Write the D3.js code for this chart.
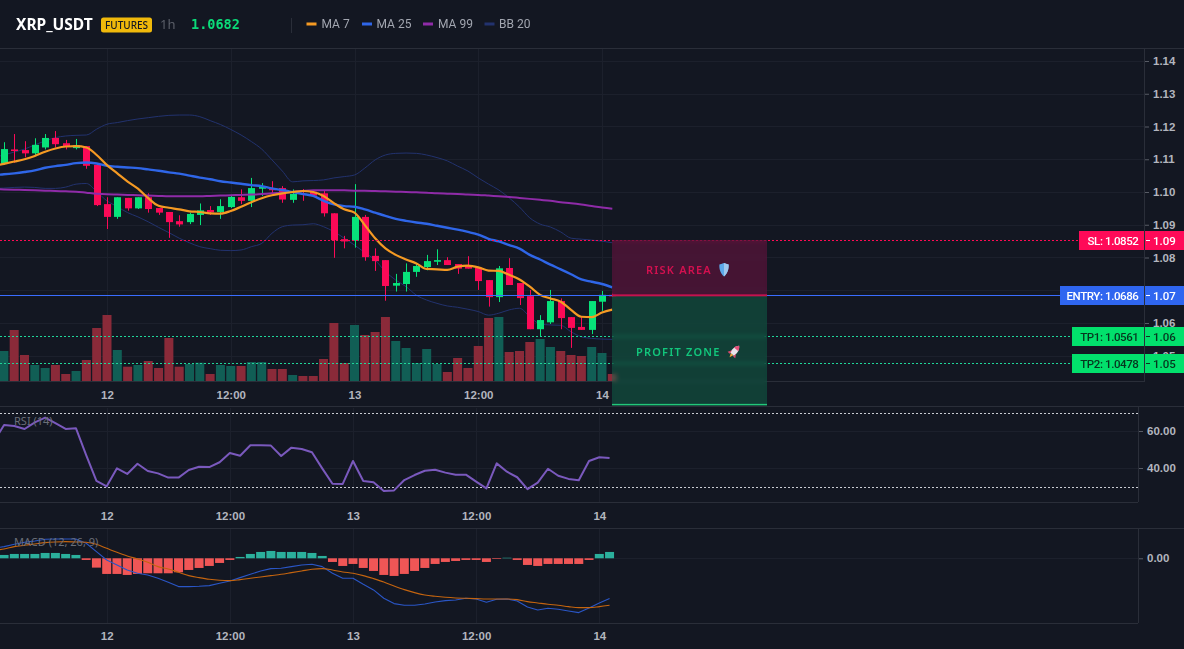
<!DOCTYPE html>
<html>
<head>
<meta charset="utf-8">
<title>XRP_USDT 1h</title>
<script src="https://cdn.jsdelivr.net/npm/d3@7"></script>
<style>
  html, body { margin: 0; padding: 0; background: #131722; overflow: hidden; }
  #stage { position: relative; width: 1184px; height: 649px; overflow: hidden; }
  svg { position: absolute; left: 0; top: 0; }
  .zone { position: absolute; backdrop-filter: blur(2px); -webkit-backdrop-filter: blur(2px); }
  text { font-family: "Noto Sans", sans-serif; }
  .axis text { font-family: "Liberation Sans", sans-serif; font-weight: 700; font-size: 11.5px; fill: #b2b5be; }
  .axis path { display: none; }
</style>
</head>
<body>
<div id="stage"></div>
<script>
// Hourly candles, index 0 is the 12th at 00:00; the first bar sits at index -10.
const firstIndex = -10;
const opens = [1.1086,1.1130,1.1128,1.1118,1.1136,1.1165,1.1149,1.1134,1.1140,1.1083,
  1.0963,1.0924,1.0982,1.0950,1.0984,1.0951,1.0939,1.0911,1.0908,1.0930,
  1.0945,1.0939,1.0954,1.0984,1.0973,1.1010,1.1010,1.1012,1.0976,1.1006,
  1.1001,1.0996,1.0935,1.0856,1.0851,1.0924,1.0805,1.0792,1.0714,1.0719,
  1.0756,1.0771,1.0787,1.0792,1.0780,1.0776,1.0769,1.0731,1.0679,1.0768,
  1.0722,1.0682,1.0581,1.0602,1.0667,1.0618,1.0588,1.0579,1.0665,1.0686];
const closes = [1.1131,1.1125,1.1118,1.1144,1.1165,1.1146,1.1140,1.1143,1.1080,1.0960,
  1.0924,1.0984,1.0950,1.0984,1.0948,1.0937,1.0908,1.0901,1.0933,1.0944,
  1.0938,1.0957,1.0985,1.0973,1.1012,1.1016,1.1006,1.0977,1.0994,1.1001,
  1.0989,1.0935,1.0853,1.0849,1.0924,1.0801,1.0789,1.0713,1.0722,1.0756,
  1.0774,1.0789,1.0792,1.0777,1.0766,1.0766,1.0728,1.0679,1.0767,1.0716,
  1.0676,1.0581,1.0609,1.0667,1.0615,1.0585,1.0579,1.0667,1.0686,1.0682];
const highs = [1.1152,1.1177,1.1155,1.1164,1.1177,1.1186,1.1159,1.1162,1.1140,1.1083,
  1.0984,1.0984,1.0982,1.0984,1.0996,1.0951,1.0939,1.0929,1.0937,1.0965,
  1.0957,1.0978,1.0991,1.1008,1.1043,1.1027,1.1033,1.1018,1.1008,1.1009,
  1.1006,1.1006,1.0935,1.0866,1.1024,1.0930,1.0828,1.0792,1.0750,1.0782,
  1.0783,1.0808,1.0825,1.0801,1.0780,1.0804,1.0769,1.0731,1.0774,1.0798,
  1.0722,1.0701,1.0624,1.0701,1.0675,1.0618,1.0618,1.0667,1.0698,1.0690];
const lows = [1.1083,1.1089,1.1106,1.1113,1.1130,1.1136,1.1130,1.1130,1.1071,1.0957,
  1.0887,1.0918,1.0943,1.0948,1.0937,1.0930,1.0860,1.0894,1.0902,1.0899,
  1.0930,1.0918,1.0951,1.0963,1.0954,1.0988,1.0994,1.0967,1.0967,1.0973,
  1.0985,1.0925,1.0799,1.0828,1.0830,1.0790,1.0759,1.0668,1.0696,1.0696,
  1.0741,1.0761,1.0777,1.0777,1.0750,1.0766,1.0701,1.0650,1.0664,1.0716,
  1.0655,1.0581,1.0558,1.0597,1.0581,1.0524,1.0579,1.0566,1.0637,1.0680];
const volumes = [30.5,51.5,26.5,16.5,13.5,16.5,7.5,10.5,21.5,53.5,
  66.5,31.5,14.8,16.5,20.5,13.5,43.5,14.8,17.5,18.8,
  7.5,16.5,15.5,15.5,19.5,19.5,12.5,12.5,6.5,5.5,
  5.5,22.5,58.5,18.5,56.5,46.5,49.5,64.5,40.5,33.5,
  18.5,32.5,17.5,9.5,23.5,13.5,35.5,63.5,64.5,29.5,
  30.5,39.5,42.5,34.5,30.5,26.5,25.5,34.5,28.5,7.5];

// Line series and RSI carry one extra leading hour so they enter from the pane edge.
const lineFirstIndex = -11;
const ma7 = [1.1079,1.1086,1.1093,1.1100,1.1110,1.1123,1.1133,1.1139,1.1140,1.1136,1.1113,
  1.1082,1.1057,1.1032,1.1010,1.0981,1.0958,1.0952,1.0947,1.0941,1.0939,
  1.0935,1.0934,1.0942,1.0955,1.0969,1.0981,1.0990,1.0996,1.1000,1.1003,
  1.1000,1.0988,1.0966,1.0947,1.0937,1.0899,1.0859,1.0828,1.0808,1.0794,
  1.0782,1.0765,1.0764,1.0762,1.0772,1.0775,1.0770,1.0760,1.0759,1.0747,
  1.0733,1.0711,1.0686,1.0675,1.0665,1.0640,1.0619,1.0618,1.0632,1.0641];
const ma25 = [1.1052,1.1054,1.1057,1.1061,1.1066,1.1074,1.1079,1.1083,1.1088,1.1090,1.1087,
  1.1080,1.1077,1.1075,1.1073,1.1069,1.1065,1.1060,1.1056,1.1050,1.1044,
  1.1039,1.1033,1.1029,1.1025,1.1021,1.1018,1.1011,1.1006,1.1000,1.0994,
  1.0988,1.0973,1.0962,1.0957,1.0955,1.0947,1.0937,1.0927,1.0918,1.0912,
  1.0907,1.0903,1.0897,1.0891,1.0885,1.0878,1.0870,1.0857,1.0849,1.0838,
  1.0827,1.0808,1.0794,1.0778,1.0764,1.0749,1.0733,1.0726,1.0719,1.0709];
const ma99 = [1.1009,1.1008,1.1007,1.1006,1.1005,1.1004,1.1003,1.1002,1.1001,1.0998,1.0995,
  1.0993,1.0992,1.0991,1.0990,1.0989,1.0988,1.0987,1.0987,1.0987,1.0987,
  1.0988,1.0989,1.0990,1.0991,1.0992,1.0994,1.0996,1.0998,1.1000,1.1003,
  1.1005,1.1005,1.1005,1.1005,1.1004,1.1004,1.1003,1.1002,1.1001,1.1000,
  1.0999,1.0998,1.0996,1.0995,1.0994,1.0992,1.0991,1.0989,1.0987,1.0985,
  1.0982,1.0979,1.0976,1.0973,1.0969,1.0966,1.0962,1.0957,1.0953,1.0949];
const bbUpper = [1.1105,1.1113,1.1122,1.1131,1.1144,1.1156,1.1166,1.1171,1.1173,1.1174,1.1192,
  1.1207,1.1212,1.1218,1.1223,1.1227,1.1231,1.1234,1.1235,1.1235,1.1230,
  1.1218,1.1206,1.1191,1.1174,1.1154,1.1131,1.1098,1.1064,1.1031,1.1034,
  1.1035,1.1037,1.1043,1.1047,1.1052,1.1073,1.1098,1.1113,1.1118,1.1119,
  1.1118,1.1113,1.1105,1.1095,1.1079,1.1064,1.1043,1.1024,1.1006,1.0982,
  1.0954,1.0921,1.0902,1.0893,1.0878,1.0859,1.0856,1.0853,1.0850,1.0845];
const bbLower = [1.1011,1.1012,1.1014,1.1015,1.1014,1.1011,1.1011,1.1015,1.1024,1.1026,1.1001,
  1.0973,1.0955,1.0937,1.0924,1.0909,1.0892,1.0876,1.0859,1.0845,1.0833,
  1.0827,1.0822,1.0821,1.0823,1.0833,1.0843,1.0874,1.0894,1.0899,1.0900,
  1.0903,1.0894,1.0879,1.0859,1.0838,1.0815,1.0792,1.0757,1.0731,1.0711,
  1.0685,1.0670,1.0660,1.0652,1.0648,1.0642,1.0635,1.0624,1.0630,1.0640,
  1.0645,1.0619,1.0597,1.0594,1.0593,1.0573,1.0558,1.0553,1.0551,1.0550];

const rsi14 = [54.2,63.2,62.7,61.1,64.7,67.2,64.2,61.1,61.5,47.0,33.0,
  30.1,39.8,36.8,42.3,38.4,37.1,34.8,34.8,38.9,40.7,
  40.5,43.1,48.1,46.6,52.3,52.3,52.1,46.5,51.0,50.3,
  48.5,39.8,31.5,31.4,43.8,33.0,32.3,27.6,27.9,33.5,
  36.2,38.5,39.1,37.5,36.4,36.4,32.6,29.0,42.5,38.0,
  35.0,28.6,32.1,39.6,35.8,34.1,33.4,43.8,45.8,45.4];

const macdLine = [0.0015,0.00175,0.0021,0.0024,0.0026,0.00285,0.0029,0.0029,0.0029,0.00225,0.001,
  -0.00025,-0.001,-0.00175,-0.00225,-0.0025,-0.003,-0.0036,-0.00425,-0.00425,-0.0042,
  -0.0041,-0.00375,-0.0034,-0.0029,-0.0024,-0.0019,-0.00155,-0.0015,-0.00125,-0.001,
  -0.0009,-0.00125,-0.00225,-0.003,-0.003,-0.0039,-0.00475,-0.006,-0.0068,-0.00705,
  -0.00705,-0.00685,-0.00655,-0.00635,-0.00625,-0.006,-0.0061,-0.0066,-0.00615,-0.0061,
  -0.0064,-0.0073,-0.00775,-0.0075,-0.00765,-0.0079,-0.00815,-0.00745,-0.0067,-0.00605];
const macdSignal = [0.0012,0.0014,0.00175,0.00195,0.00215,0.00235,0.00245,0.0025,0.00245,0.0024,0.0021,
  0.0015,0.0009,0.00035,-0.0001,-0.0006,-0.00125,-0.0016,-0.0021,-0.0026,-0.0029,
  -0.00315,-0.0033,-0.00335,-0.0032,-0.003,-0.0028,-0.0026,-0.0024,-0.00215,-0.0019,
  -0.00165,-0.00155,-0.00175,-0.00205,-0.00225,-0.0026,-0.00305,-0.00355,-0.00415,-0.0047,
  -0.00515,-0.0055,-0.0057,-0.00585,-0.00595,-0.006,-0.00605,-0.0061,-0.0061,-0.0061,
  -0.0062,-0.0065,-0.0067,-0.0069,-0.00705,-0.00725,-0.0074,-0.0074,-0.00725,-0.00705];
const macdHist = [0.0005,0.00065,0.00065,0.00065,0.0008,0.0008,0.00065,0.0005,-0.00025,-0.0014,
  -0.00235,-0.00235,-0.0025,-0.00235,-0.00225,-0.00225,-0.00225,-0.0021,-0.00175,-0.00145,
  -0.00115,-0.0007,-0.00025,0.0002,0.00065,0.00095,0.0011,0.00095,0.00095,0.00095,
  0.0008,0.00035,-0.00055,-0.00115,-0.00085,-0.00145,-0.0019,-0.0025,-0.00265,-0.00235,
  -0.0019,-0.00145,-0.00085,-0.00055,-0.0004,-0.00025,-0.00025,-0.00055,-0.0001,0.00008,
  -0.00025,-0.001,-0.00115,-0.00085,-0.00085,-0.00085,-0.00085,-0.00025,0.00065,0.00095];

// Trade levels and axis labels.
const slLevel = 1.0852, entryLevel = 1.0686, tp1Level = 1.0561, tp2Level = 1.0478, zoneFloor = 1.0350;
const lastPrice = 1.0682;
const priceGrid = [1.14,1.13,1.12,1.11,1.10,1.09,1.08,1.07,1.06,1.05];
const priceTicks = [1.14,1.13,1.12,1.11,1.10,1.09,1.08,1.06,1.05];
const rsiTicks = [60,40];
const macdTicks = [0];
const hourTicks = [0,12,24,36,48];
const hourLabels = ["12","12:00","13","12:00","14"];
const legendItems = [["MA 7","#f59a23",306.5,321.5],["MA 25","#2f66e8",362,376.5],["MA 99","#8f2ba8",423,438],["BB 20","#22326e",484.5,499]];

const width = 1184, height = 649;
const col = { up:"#07e37a", down:"#fb0a57", volUp:"#115e55", volDown:"#8a2a39", grid:"#1c202c", line:"#2a2e39" };

const stage = d3.select("#stage");
const svg = stage.append("svg").attr("width", width).attr("height", height);

// Price pane is a little wider than the indicator panes, so they keep separate time scales.
const xMain = d3.scaleLinear().domain([0,48]).range([107,602]);
const xLow = d3.scaleLinear().domain([0,48]).range([106.7,599.3]);
const yPrice = d3.scaleLinear().domain([1.14,1.05]).range([61,355.75]);
const yVol = d3.scaleLinear().domain([0,70]).range([381.5,311.5]);
const yRsi = d3.scaleLinear().domain([70,30]).range([412.5,486.5]);
const yMacd = d3.scaleLinear().domain([0.0045,-0.0098]).range([528.3,623.6]);

const defs = svg.append("defs");
defs.append("clipPath").attr("id","clipMain").append("rect").attr("x",0).attr("y",49).attr("width",1145).attr("height",332);
defs.append("clipPath").attr("id","clipRsi").append("rect").attr("x",0).attr("y",408).attr("width",1138).attr("height",95);
defs.append("clipPath").attr("id","clipMacd").append("rect").attr("x",0).attr("y",529).attr("width",1138).attr("height",94);

const bars = opens.map((o,k) => ({ i:k+firstIndex, o, c:closes[k], h:highs[k], l:lows[k], v:volumes[k], up:closes[k]>=o }));

// Pane frames
function hLine(y,x1,x2,c){ svg.append("line").attr("x1",x1).attr("x2",x2).attr("y1",y).attr("y2",y).attr("stroke",c); }
function vLine(x,y1,y2,c){ svg.append("line").attr("x1",x).attr("x2",x).attr("y1",y1).attr("y2",y2).attr("stroke",c); }

// Grids
priceGrid.forEach(t => hLine(Math.round(yPrice(t))+.5,0,1145,col.grid));
hourTicks.forEach(t => vLine(Math.round(xMain(t))+.5,49,381,col.grid));
rsiTicks.forEach(t => hLine(Math.round(yRsi(t))+.5,0,1138,col.grid));
hourTicks.forEach(t => vLine(Math.round(xLow(t))+.5,408,502,col.grid));
macdTicks.forEach(t => hLine(Math.round(yMacd(t))+.5,0,1138,col.grid));
hourTicks.forEach(t => vLine(Math.round(xLow(t))+.5,529,623,col.grid));

hLine(48.5,0,width,col.line);
hLine(381.5,0,1145,col.line);
hLine(406.5,0,width,col.line);
hLine(502.5,0,1138,col.line);
hLine(528.5,0,width,col.line);
hLine(623.5,0,1138,col.line);
vLine(1144.5,49,381,col.line);
vLine(1138.5,407,502,col.line);
vLine(1138.5,529,623,col.line);

// Price pane marks
const main = svg.append("g").attr("clip-path","url(#clipMain)");
main.append("g").selectAll("rect").data(bars).join("rect")
  .attr("x", d => xMain(d.i)-4.5).attr("width",9)
  .attr("y", d => yVol(d.v)).attr("height", d => yVol(0)-yVol(d.v))
  .attr("fill", d => d.up ? col.volUp : col.volDown);

function drawPath(g,data,x,y,first,stroke,w,straight){
  const gen = d3.line().x((d,k)=>x(k+first)).y(d=>y(d));
  if(!straight) gen.curve(d3.curveMonotoneX);
  g.append("path").datum(data).attr("d",gen).attr("fill","none").attr("stroke",stroke).attr("stroke-width",w).attr("stroke-linejoin","round");
}
drawPath(main,bbUpper,xMain,yPrice,lineFirstIndex,"#22326e",1);
drawPath(main,bbLower,xMain,yPrice,lineFirstIndex,"#22326e",1);

const candle = main.append("g").selectAll("g").data(bars).join("g");
candle.append("line").attr("x1",d=>Math.round(xMain(d.i))+.5).attr("x2",d=>Math.round(xMain(d.i))+.5)
  .attr("y1",d=>yPrice(d.h)).attr("y2",d=>yPrice(d.l)).attr("stroke",d=>d.up?col.up:col.down);
candle.append("rect").attr("x",d=>Math.round(xMain(d.i))+.5-3.5).attr("width",7)
  .attr("y",d=>yPrice(Math.max(d.o,d.c))).attr("height",d=>Math.max(1.5,Math.abs(yPrice(d.o)-yPrice(d.c))))
  .attr("fill",d=>d.up?col.up:col.down);

drawPath(main,ma99,xMain,yPrice,lineFirstIndex,"#8f2ba8",2);
drawPath(main,ma25,xMain,yPrice,lineFirstIndex,"#2f66e8",2.4);
drawPath(main,ma7,xMain,yPrice,lineFirstIndex,"#f59a23",2.2);

// Level rules
function dottedLevel(v,x2,stroke){
  svg.append("line").attr("x1",0).attr("x2",x2).attr("y1",Math.round(yPrice(v))+.5).attr("y2",Math.round(yPrice(v))+.5)
    .attr("stroke",stroke).attr("stroke-width",1).attr("stroke-dasharray","2 2");
}
dottedLevel(slLevel,1079,"#ff0a54");
dottedLevel(tp1Level,1072,"#1fd69a");
dottedLevel(tp2Level,1072,"#1fd69a");
svg.append("rect").attr("x",0).attr("width",1060).attr("y",Math.round(yPrice(entryLevel))).attr("height",1).attr("fill","#3a6dff");

// RSI pane
const rsiG = svg.append("g").attr("clip-path","url(#clipRsi)");
[70,30].forEach(t => rsiG.append("line").attr("x1",0).attr("x2",1138).attr("y1",Math.round(yRsi(t))+.5).attr("y2",Math.round(yRsi(t))+.5)
  .attr("stroke","#c9ccd3").attr("stroke-dasharray","2 2"));
drawPath(rsiG,rsi14,xLow,yRsi,lineFirstIndex,"#7a59bd",2,true);
svg.append("text").attr("x",14).attr("y",425).attr("font-size",11).attr("fill","#6a6e78").text("RSI (14)");

// MACD pane
const macdG = svg.append("g").attr("clip-path","url(#clipMacd)");
macdG.append("g").selectAll("rect").data(macdHist).join("rect")
  .attr("x",(d,k)=>xLow(k+firstIndex)-4.5).attr("width",9)
  .attr("y",d=>yMacd(Math.max(d,0))).attr("height",d=>Math.abs(yMacd(d)-yMacd(0)))
  .attr("fill",d=>d>=0?"#2bb09c":"#f05656");
drawPath(macdG,macdLine,xLow,yMacd,lineFirstIndex,"#2a56c6",1.1,true);
drawPath(macdG,macdSignal,xLow,yMacd,lineFirstIndex,"#c4640f",1.1);
svg.append("text").attr("x",14).attr("y",546).attr("font-size",11).attr("fill","#6a6e78").text("MACD (12, 26, 9)");

// Axes
function timeAxis(scale,y){
  const a = d3.axisBottom(scale).tickValues(hourTicks).tickFormat((d,k)=>hourLabels[k]).tickSize(0).tickPadding(0);
  const g = svg.append("g").attr("class","axis").attr("transform",`translate(0,${y})`).call(a);
  g.selectAll("text").attr("dy",0);
}
timeAxis(xMain,399);
timeAxis(xLow,520);
timeAxis(xLow,640);

svg.append("g").attr("class","axis").attr("transform","translate(1145,0)")
  .call(d3.axisRight(yPrice).tickValues(priceTicks).tickFormat(d3.format(".2f")).tickSize(4).tickPadding(4))
  .selectAll("line").attr("stroke","#585c66");
svg.append("g").attr("class","axis").attr("transform","translate(1139,0)")
  .call(d3.axisRight(yRsi).tickValues(rsiTicks).tickFormat(d3.format(".2f")).tickSize(4).tickPadding(4))
  .selectAll("line").attr("stroke","#585c66");
svg.append("g").attr("class","axis").attr("transform","translate(1139,0)")
  .call(d3.axisRight(yMacd).tickValues(macdTicks).tickFormat(d3.format(".2f")).tickSize(4).tickPadding(4))
  .selectAll("line").attr("stroke","#585c66");

// Risk and reward blocks, blurring what lies under them
const zoneX = xMain(48.97), zoneW = 155;
stage.append("div").attr("class","zone").style("left",zoneX+"px").style("width",zoneW+"px")
  .style("top",yPrice(slLevel)+"px").style("height",(yPrice(entryLevel)-yPrice(slLevel)+1)+"px")
  .style("background","rgba(128,18,72,.46)");
stage.append("div").attr("class","zone").style("left",zoneX+"px").style("width",zoneW+"px")
  .style("top",(yPrice(entryLevel)+1)+"px").style("height",(yPrice(zoneFloor)-yPrice(entryLevel)-1)+"px")
  .style("background","rgba(14,120,84,.42)");

const overlay = stage.append("svg").attr("width",width).attr("height",height);
overlay.append("rect").attr("x",zoneX).attr("y",yPrice(entryLevel)-.5).attr("width",zoneW).attr("height",2).attr("fill","#c4124f");
overlay.append("rect").attr("x",zoneX).attr("y",yPrice(zoneFloor)-1).attr("width",zoneW).attr("height",1.5).attr("fill","#22c77a");
overlay.append("text").attr("x",646).attr("y",273.5).attr("font-size",11).attr("font-weight",600).attr("letter-spacing",1.2).attr("fill","#d3104f").text("RISK AREA");
overlay.append("text").attr("x",636).attr("y",355.5).attr("font-size",11).attr("font-weight",600).attr("letter-spacing",1.2).attr("fill","#12c67c").text("PROFIT ZONE");

// Shield glyph
const shield = overlay.append("g").attr("transform","translate(719,263)");
shield.append("path").attr("d","M5 0 C7 1 9 1.2 9.6 1.6 C10 7 8 11 5 13.5 C2 11 0 7 .4 1.6 C1 1.2 3 1 5 0Z").attr("fill","#5da9ea");
shield.append("path").attr("d","M5 0 C7 1 9 1.2 9.6 1.6 C10 7 8 11 5 13.5Z").attr("fill","#9fc8ee");
// Rocket glyph
const rocket = overlay.append("g").attr("transform","translate(728,345) rotate(40 6 7)");
rocket.append("path").attr("d","M6 -1 C9 2 9.4 6 8.6 10 H3.4 C2.6 6 3 2 6 -1Z").attr("fill","#e8e3ea");
rocket.append("path").attr("d","M6 -1 C7.6 .4 8.4 2 8.8 3.6 H3.2 C3.6 2 4.4 .4 6 -1Z").attr("fill","#e2507a");
rocket.append("path").attr("d","M3.4 7 L1 11 H3.8Z M8.6 7 L11 11 H8.2Z").attr("fill","#d9486f");
rocket.append("path").attr("d","M4.4 10 H7.6 L6 14Z").attr("fill","#f2a33a");

// Price tags on the right edge
function priceTag(label,v,x0,bg,fg){
  const yc = Math.round(yPrice(v))+.5;
  overlay.append("rect").attr("x",x0).attr("y",yc-9.5).attr("width",1144-x0).attr("height",19).attr("fill",bg);
  overlay.append("rect").attr("x",1145).attr("y",yc-9.5).attr("width",39).attr("height",19).attr("fill",bg);
  overlay.append("line").attr("x1",1146).attr("x2",1150).attr("y1",yc).attr("y2",yc).attr("stroke",fg);
  overlay.append("text").attr("x",1138.5).attr("y",yc+4).attr("text-anchor","end").attr("font-size",11.5).attr("font-weight",500).attr("letter-spacing",-0.4).attr("fill",fg).style("font-family","Roboto").text(label+": "+v.toFixed(4));
  overlay.append("text").attr("x",1153).attr("y",yc+4).attr("font-size",11.5).attr("font-weight",500).attr("fill",fg).style("font-family","Roboto").text(v.toFixed(2));
}
priceTag("SL",slLevel,1079,"#ff0a58","#ffffff");
priceTag("ENTRY",entryLevel,1060,"#2f66f0","#ffffff");
priceTag("TP1",tp1Level,1072,"#02e06c","#06361f");
priceTag("TP2",tp2Level,1072,"#02e06c","#06361f");

// Header
overlay.append("text").attr("x",16).attr("y",29.5).attr("font-size",15.5).attr("font-weight",700).attr("fill","#ffffff").text("XRP_USDT");
overlay.append("rect").attr("x",101).attr("y",17.5).attr("width",51).attr("height",15).attr("rx",2.5).attr("fill","#f0b90b");
overlay.append("text").attr("x",126.5).attr("y",29).attr("text-anchor","middle").attr("font-size",10).attr("font-weight",500).attr("fill","#131722").text("FUTURES");
overlay.append("text").attr("x",160).attr("y",29).attr("font-size",13).attr("fill","#5b5f69").text("1h");
overlay.append("text").attr("x",191).attr("y",29).attr("font-size",13.5).attr("font-weight",700).attr("fill","#0bdb79").style("font-family","'DejaVu Sans Mono',monospace").text(lastPrice.toFixed(4));
overlay.append("line").attr("x1",291.5).attr("x2",291.5).attr("y1",18).attr("y2",33).attr("stroke","#2a2e39");
legendItems.forEach(([t,c,sx,tx]) => {
  overlay.append("rect").attr("x",sx).attr("y",22.5).attr("width",10).attr("height",3).attr("fill",c);
  overlay.append("text").attr("x",tx).attr("y",28).attr("font-size",12).attr("fill","#a2a6b0").style("font-family","Roboto").text(t);
});
</script>
</body>
</html>
